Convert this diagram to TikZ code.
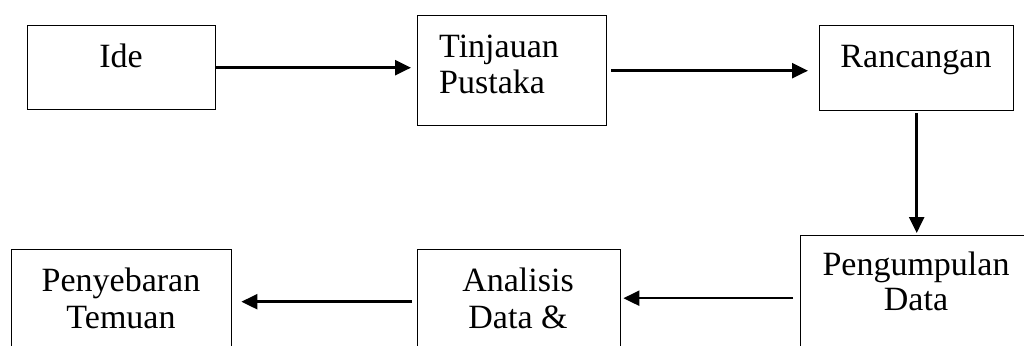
\documentclass[tikz,border=0pt]{standalone}
\usepackage{fontspec}
\setmainfont{Liberation Serif}
\usetikzlibrary{arrows.meta}
\tikzset{
  box/.style={draw=black, line width=1.4pt, rectangle, inner sep=0pt},
  lbl/.style={inner sep=0pt, anchor=base, font=\fontsize{34}{37}\selectfont},
  flow/.style={line width=2.5pt, -{Triangle[length=16pt,width=15pt]}}
}
\begin{document}
\begin{tikzpicture}[x=1pt,y=-1pt]
\path[use as bounding box] (0,0) rectangle (1024,345);
\clip (0,0) rectangle (1024,345);
% boxes
\node[box, minimum width=188pt, minimum height=84pt, anchor=north west] (ide) at (27,25) {};
\node[box, minimum width=189pt, minimum height=110pt, anchor=north west] (tin) at (417,15) {};
\node[box, minimum width=194pt, minimum height=85pt, anchor=north west] (ran) at (819,25) {};
\node[box, minimum width=232pt, minimum height=125pt, anchor=north west] (pen) at (800,235) {};
\node[box, minimum width=203pt, minimum height=104pt, anchor=north west] (ana) at (417,249) {};
\node[box, minimum width=220pt, minimum height=104pt, anchor=north west] (pny) at (11,249) {};
% labels
\node[lbl] (tide) at (121,67) {Ide};
\node[lbl, anchor=base west, font=\fontsize{34}{36}\selectfont] (ttin) at (439,57) {\begin{tabular}[t]{@{}l@{}}Tinjauan\\Pustaka\end{tabular}};
\node[lbl] (tran) at (916,67) {Rancangan};
\node[lbl, font=\fontsize{34}{35}\selectfont] (tpen) at (916,275) {\begin{tabular}[t]{@{}c@{}}Pengumpulan\\Data\end{tabular}};
\node[lbl] (tana) at (518,291) {\begin{tabular}[t]{@{}c@{}}Analisis\\Data \&\end{tabular}};
\node[lbl] (tpny) at (121,291) {\begin{tabular}[t]{@{}c@{}}Penyebaran\\Temuan\end{tabular}};
% connectors
\draw[flow, shorten >=6pt] (ide.east) -- (ide.east -| tin.west);
\draw[flow, shorten <=4pt, shorten >=11pt] (tin.east) -- (tin.east -| ran.west);
\draw[flow, shorten <=2pt, shorten >=2pt] (ran.south) -- (ran.south |- pen.north);
\draw[flow, shorten <=7pt, shorten >=2pt] (pen.west) -- (pen.west -| ana.east);
\draw[flow, shorten <=5pt, shorten >=9pt] (ana.west) -- (pny.east);
\end{tikzpicture}
\end{document}
